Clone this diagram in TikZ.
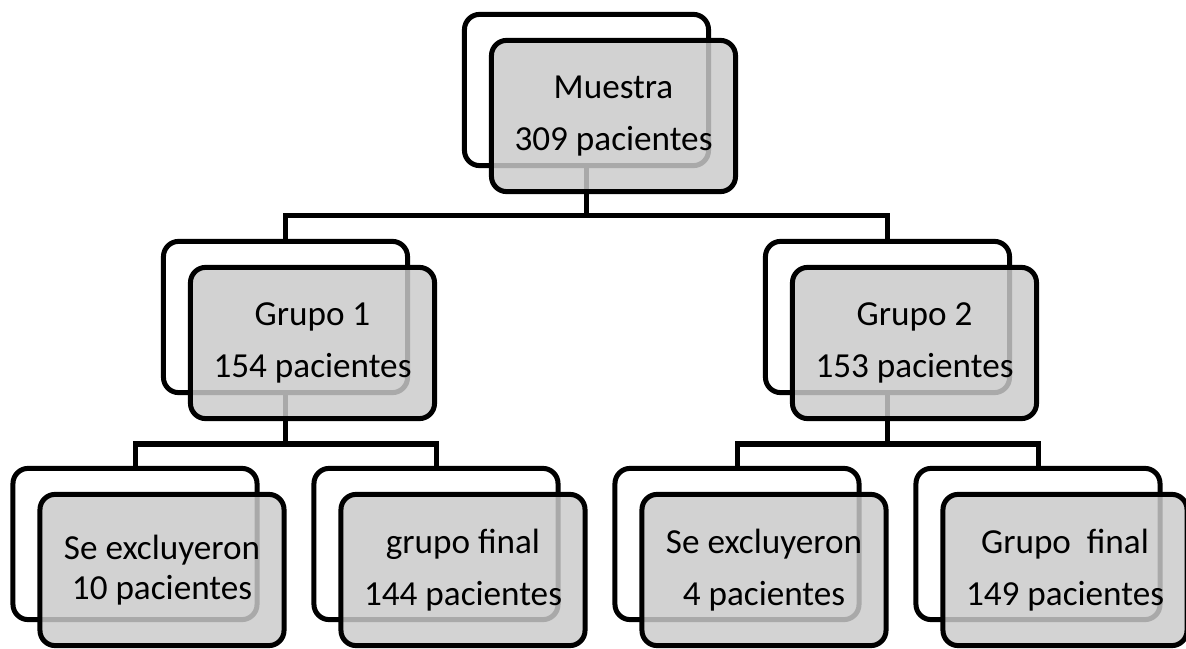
\documentclass[tikz,border=0pt]{standalone}
\usepackage{fontspec}
\setmainfont{Carlito}
\definecolor{boxgray}{RGB}{202,202,202}

\begin{document}
\begin{tikzpicture}[x=0.025cm,y=-0.025cm,
    back/.style={draw,line width=0.125cm,rounded corners=0.38cm,fill=white,
      minimum width=6.1cm,minimum height=3.78cm,inner sep=0pt},
    front/.style={back,fill=boxgray,fill opacity=0.84,text opacity=1,
      align=center,font=\fontsize{25}{37}\selectfont},
    link/.style={line width=0.125cm}]
      % \draw[help lines](0,0) grid[step=100] (1186,649);

      % Bounding box
      \useasboundingbox (0,0) rectangle (1186,649);

      \draw (586.5,90) node[back] (muestraB) {};
      \draw (285.5,317) node[back] (grupoUnoB) {};
      \draw (887.5,317) node[back] (grupoDosB) {};
      \draw (135,544) node[back] (excluUnoB) {};
      \draw (436,544) node[back] (finalUnoB) {};
      \draw (737,544) node[back] (excluDosB) {};
      \draw (1038,544) node[back] (finalDosB) {};

      \coordinate (barA) at (586.5,216);
      \coordinate (barB) at (285.5,444);
      \coordinate (barC) at (887.5,444);

      \draw [link] (muestraB.south) -- (barA);
      \draw [link] (grupoUnoB.north) |- (barA) -| (grupoDosB.north);
      \draw [link] (grupoUnoB.south) -- (barB);
      \draw [link] (excluUnoB.north) |- (barB) -| (finalUnoB.north);
      \draw [link] (grupoDosB.south) -- (barC);
      \draw [link] (excluDosB.north) |- (barC) -| (finalDosB.north);

      \draw ([shift={(27,26)}]muestraB.center) node[front] (muestra) {Muestra\\309 pacientes};
      \draw ([shift={(27,26)}]grupoUnoB.center) node[front] (grupoUno) {Grupo 1\\154 pacientes};
      \draw ([shift={(27,26)}]grupoDosB.center) node[front] (grupoDos) {Grupo 2\\153 pacientes};
      \draw ([shift={(27,26)}]excluUnoB.center) node[front,font=\fontsize{25}{28}\selectfont] (excluUno) {Se excluyeron\\10 pacientes};
      \draw ([shift={(27,26)}]finalUnoB.center) node[front] (finalUno) {grupo final\\144 pacientes};
      \draw ([shift={(27,26)}]excluDosB.center) node[front] (excluDos) {Se excluyeron\\4 pacientes};
      \draw ([shift={(27,26)}]finalDosB.center) node[front] (finalDos) {Grupo\ \ final\\149 pacientes};
    \end{tikzpicture}
\end{document}
